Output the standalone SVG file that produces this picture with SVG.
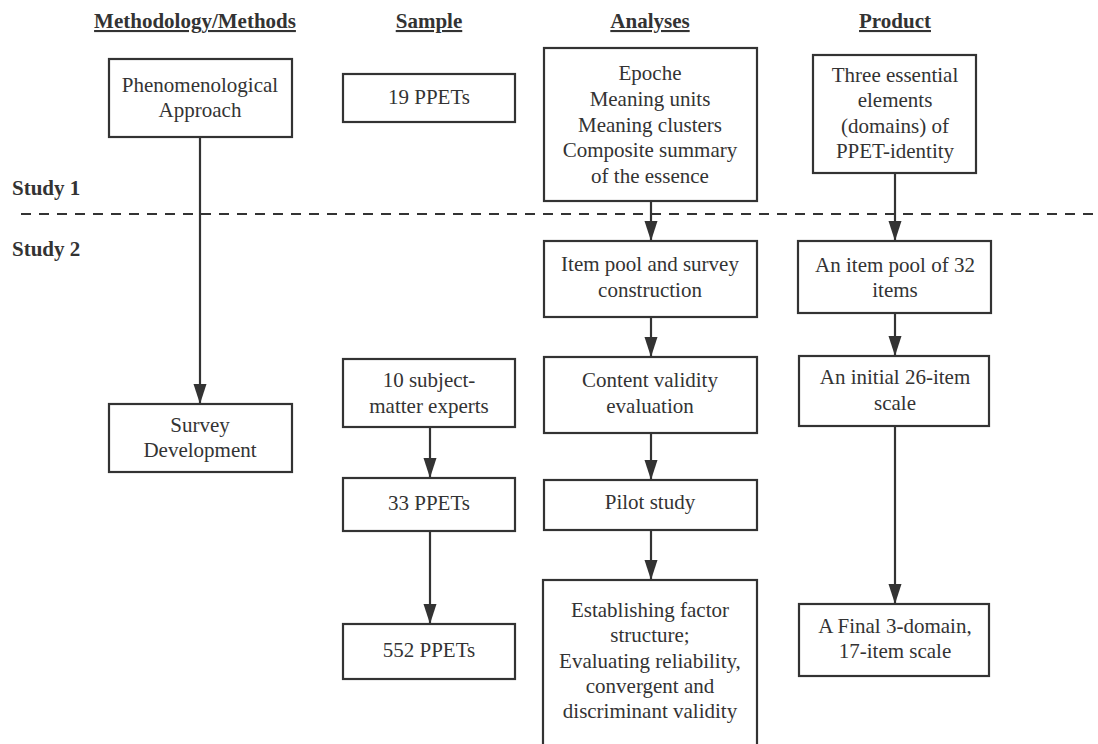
<svg xmlns="http://www.w3.org/2000/svg" width="1098" height="744" viewBox="0 0 1098 744">
<style>
.box{fill:#fff;stroke:#333;stroke-width:2.2}
.t{font-family:"Liberation Serif","Times New Roman",serif;font-size:21px;fill:#333;text-anchor:middle}
.h{font-family:"Liberation Serif","Times New Roman",serif;font-size:21px;font-weight:bold;fill:#333;text-anchor:middle;text-decoration:underline}
.s{font-family:"Liberation Serif","Times New Roman",serif;font-size:21px;font-weight:bold;fill:#333}
.c{stroke:#333;stroke-width:2.2;fill:none;marker-end:url(#ah)}
</style>
<defs>
<marker id="ah" markerUnits="userSpaceOnUse" markerWidth="20" markerHeight="14" refX="20" refY="7" orient="auto">
<path d="M0,0.5 L20,7 L0,13.5 z" fill="#333"/>
</marker>
</defs>
<rect width="1098" height="744" fill="#fff"/>
<g id="headers">
<text class="h" x="195" y="28">Methodology/Methods</text>
<text class="h" x="429" y="28">Sample</text>
<text class="h" x="650" y="28">Analyses</text>
<text class="h" x="895" y="28">Product</text>
<text class="s" x="12" y="195">Study 1</text>
<text class="s" x="12" y="256">Study 2</text>
</g>
<line x1="21" y1="214" x2="1098" y2="214" stroke="#333" stroke-width="2.2" stroke-dasharray="10,8"/>
<g id="connectors">
<line class="c" x1="200" y1="137" x2="200" y2="404"/>
<line class="c" x1="651" y1="201" x2="651" y2="241"/>
<line class="c" x1="895" y1="173" x2="895" y2="241"/>
<line class="c" x1="651" y1="317" x2="651" y2="357"/>
<line class="c" x1="895" y1="313" x2="895" y2="356"/>
<line class="c" x1="651" y1="433" x2="651" y2="480"/>
<line class="c" x1="895" y1="426" x2="895" y2="604"/>
<line class="c" x1="651" y1="530" x2="651" y2="580"/>
<line class="c" x1="430" y1="427" x2="430" y2="478"/>
<line class="c" x1="430" y1="531" x2="430" y2="624"/>
</g>
<g id="phenomenological">
<rect class="box" x="109" y="59" width="183" height="78"/>
<text class="t" x="200" y="92">Phenomenological</text>
<text class="t" x="200" y="117">Approach</text>
</g>
<g id="ppets19">
<rect class="box" x="343" y="74" width="172" height="48"/>
<text class="t" x="429" y="104">19 PPETs</text>
</g>
<g id="epoche">
<rect class="box" x="544" y="48" width="213" height="153"/>
<text class="t" x="650" y="80">Epoche</text>
<text class="t" x="650" y="106">Meaning units</text>
<text class="t" x="650" y="132">Meaning clusters</text>
<text class="t" x="650" y="157">Composite summary</text>
<text class="t" x="650" y="183">of the essence</text>
</g>
<g id="three-elements">
<rect class="box" x="813" y="55" width="163" height="118"/>
<text class="t" x="895" y="82">Three essential</text>
<text class="t" x="895" y="107">elements</text>
<text class="t" x="895" y="133">(domains) of</text>
<text class="t" x="895" y="158">PPET-identity</text>
</g>
<g id="item-pool">
<rect class="box" x="544" y="241" width="213" height="76"/>
<text class="t" x="650" y="271">Item pool and survey</text>
<text class="t" x="650" y="297">construction</text>
</g>
<g id="pool32">
<rect class="box" x="798" y="241" width="193" height="72"/>
<text class="t" x="895" y="272">An item pool of 32</text>
<text class="t" x="895" y="297">items</text>
</g>
<g id="survey-development">
<rect class="box" x="109" y="404" width="183" height="68"/>
<text class="t" x="200" y="432">Survey</text>
<text class="t" x="200" y="457">Development</text>
</g>
<g id="experts">
<rect class="box" x="343" y="359" width="172" height="68"/>
<text class="t" x="429" y="387">10 subject-</text>
<text class="t" x="429" y="413">matter experts</text>
</g>
<g id="content-validity">
<rect class="box" x="544" y="357" width="213" height="76"/>
<text class="t" x="650" y="387">Content validity</text>
<text class="t" x="650" y="413">evaluation</text>
</g>
<g id="initial26">
<rect class="box" x="799" y="356" width="190" height="70"/>
<text class="t" x="895" y="384">An initial 26-item</text>
<text class="t" x="895" y="410">scale</text>
</g>
<g id="ppets33">
<rect class="box" x="343" y="478" width="172" height="53"/>
<text class="t" x="429" y="510">33 PPETs</text>
</g>
<g id="pilot">
<rect class="box" x="544" y="480" width="213" height="50"/>
<text class="t" x="650" y="509">Pilot study</text>
</g>
<g id="ppets552">
<rect class="box" x="343" y="624" width="172" height="55"/>
<text class="t" x="429" y="657">552 PPETs</text>
</g>
<g id="establishing">
<rect class="box" x="543" y="580" width="214" height="180"/>
<text class="t" x="650" y="617">Establishing factor</text>
<text class="t" x="650" y="642">structure;</text>
<text class="t" x="650" y="668">Evaluating reliability,</text>
<text class="t" x="650" y="693">convergent and</text>
<text class="t" x="650" y="718">discriminant validity</text>
</g>
<g id="final17">
<rect class="box" x="799" y="604" width="190" height="72"/>
<text class="t" x="895" y="633">A Final 3-domain,</text>
<text class="t" x="895" y="658">17-item scale</text>
</g>
</svg>
